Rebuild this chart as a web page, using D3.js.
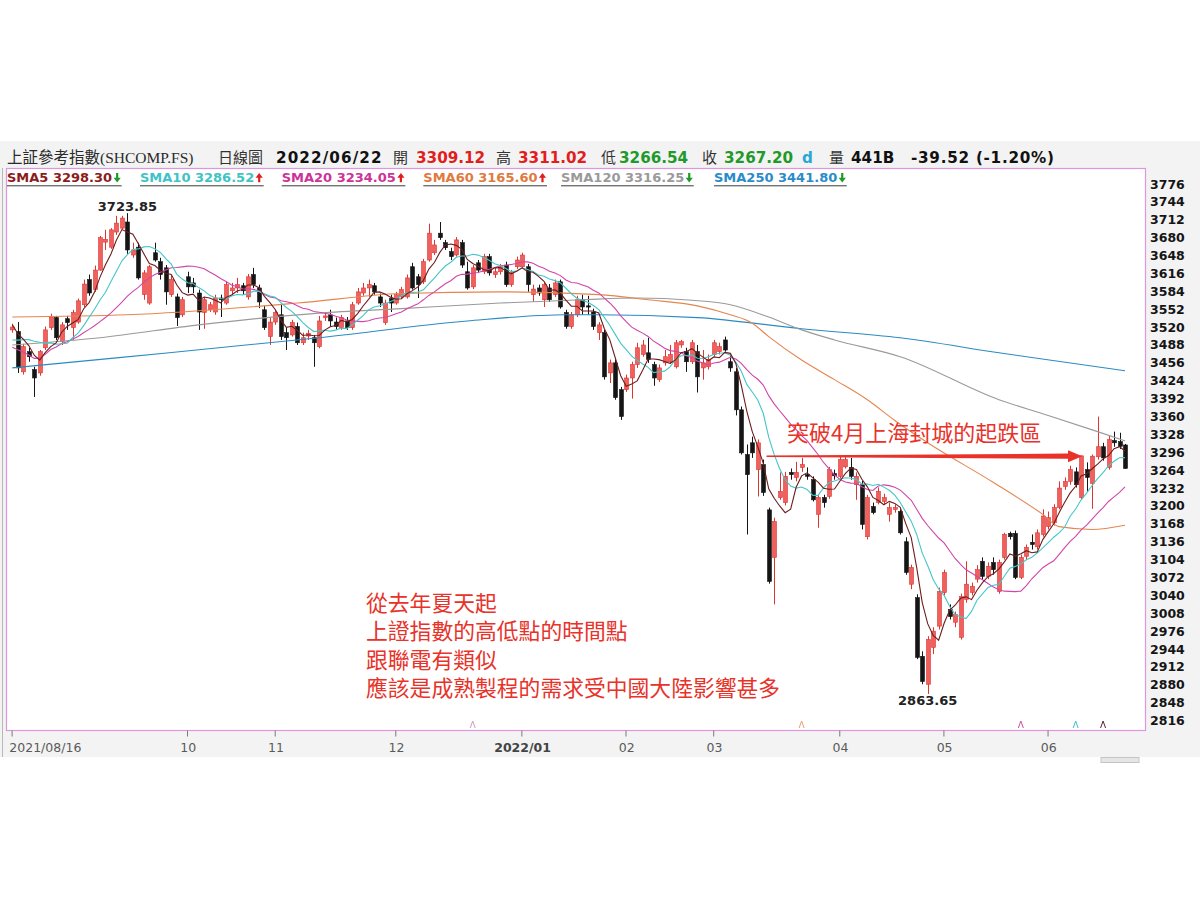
<!DOCTYPE html>
<html>
<head>
<meta charset="utf-8">
<script src="https://cdn.jsdelivr.net/npm/d3@7"></script>
<style>
  body { margin: 0; background: #fff; }
  svg { display: block; }
</style>
</head>
<body>
<svg id="chart" width="1200" height="900"></svg>
<script>
// ---- Daily OHLC, 上証參考指數, 2021/08/16 – 2022/06/22 (204 sessions) ----
const candleOpen = [
  3515,3512,3440,3476,3444,3438,3483,3519,3537,3494,
  3535,3519,3529,3560,3605,3587,3622,3672,3663,3690,
  3697,3708,3649,3663,3578,3563,3653,3637,3626,3578,
  3574,3542,3610,3599,3581,3546,3551,3547,3572,3563,
  3585,3590,3594,3574,3614,3590,3551,3503,3529,3542,
  3510,3506,3521,3492,3504,3501,3485,3537,3542,3529,
  3519,3531,3519,3563,3581,3590,3594,3574,3528,3571,
  3563,3574,3574,3628,3610,3601,3640,3653,3688,3671,
  3655,3649,3671,3619,3592,3635,3619,3646,3614,3619,
  3631,3596,3628,3628,3628,3578,3590,3569,3590,3578,
  3601,3546,3521,3542,3569,3558,3547,3510,3510,3438,
  3456,3408,3408,3429,3453,3471,3474,3453,3426,3456,
  3458,3449,3488,3476,3458,3476,3447,3449,3471,3476,
  3497,3458,3440,3372,3292,3313,3265,3274,3193,3108,
  3215,3206,3260,3251,3269,3256,3247,3185,3215,3217,
  3258,3253,3270,3269,3238,3238,3145,3199,3206,3208,
  3185,3194,3190,3136,3060,3036,2931,2881,2947,2985,
  3045,3015,2992,2965,3033,3045,3069,3101,3074,3099,
  3047,3108,3151,3151,3072,3110,3135,3127,3149,3163,
  3170,3197,3235,3244,3261,3215,3265,3240,3288,3306,
  3269,3317,3315,3309.12
];
const candleHigh = [
  3526,3529,3490,3483,3449,3479,3521,3544,3540,3529,
  3540,3551,3571,3605,3614,3630,3683,3694,3697,3719,
  3719,3723.85,3671,3671,3622,3631,3671,3644,3631,3612,
  3580,3574,3619,3608,3587,3574,3565,3578,3578,3601,
  3599,3608,3599,3615,3626,3596,3558,3537,3551,3560,
  3519,3533,3528,3510,3515,3506,3540,3547,3551,3537,
  3542,3538,3565,3590,3599,3605,3599,3580,3569,3578,
  3583,3592,3614,3635,3615,3642,3705,3676,3708,3676,
  3662,3681,3676,3637,3631,3640,3651,3651,3626,3633,
  3637,3622,3646,3653,3633,3596,3596,3601,3597,3605,
  3605,3551,3547,3576,3578,3576,3553,3529,3515,3462,
  3462,3413,3435,3458,3492,3497,3501,3458,3453,3479,
  3488,3497,3497,3483,3497,3488,3479,3471,3497,3492,
  3503,3471,3447,3378,3310,3324,3319,3283,3197,3179,
  3260,3261,3267,3279,3286,3269,3253,3220,3220,3270,
  3265,3288,3290,3286,3260,3245,3220,3206,3233,3222,
  3206,3203,3194,3144,3095,3042,2940,2967,2983,3054,
  3086,3024,3011,3043,3101,3063,3094,3108,3099,3108,
  3104,3152,3154,3156,3113,3131,3149,3158,3194,3190,
  3203,3244,3251,3272,3269,3290,3278,3292,3360,3313,
  3326,3333,3331,3311.02
];
const candleLow = [
  3510,3438,3435,3458,3395,3433,3479,3515,3497,3488,
  3515,3497,3526,3556,3576,3583,3621,3658,3660,3685,
  3694,3651,3644,3605,3569,3560,3637,3605,3560,3574,
  3522,3538,3581,3581,3515,3517,3547,3542,3538,3560,
  3578,3581,3578,3569,3590,3554,3515,3488,3524,3497,
  3479,3503,3488,3488,3497,3449,3482,3531,3521,3515,
  3515,3515,3515,3560,3576,3574,3578,3556,3524,3547,
  3560,3571,3571,3587,3572,3597,3637,3649,3676,3658,
  3640,3646,3626,3587,3588,3617,3615,3612,3608,3614,
  3592,3592,3624,3624,3583,3565,3576,3556,3565,3574,
  3553,3517,3517,3538,3542,3542,3515,3497,3426,3420,
  3390,3354,3404,3392,3447,3467,3456,3415,3422,3451,
  3454,3446,3483,3440,3454,3403,3426,3444,3467,3471,
  3476,3440,3362,3292,3149,3286,3217,3218,3061,3024,
  3211,3201,3247,3244,3261,3247,3208,3161,3197,3213,
  3247,3249,3267,3247,3211,3158,3140,3185,3203,3203,
  3172,3188,3149,3077,3051,2926,2881,2863.65,2935,2979,
  3040,2997,2983,2961,3027,3040,3063,3069,3069,3077,
  3043,3104,3140,3069,3069,3104,3122,3122,3145,3158,
  3165,3194,3229,3238,3233,3211,3226,3195,3283,3281,
  3265,3306,3302,3266.54
];
const candleClose = [
  3520,3447,3485,3467,3429,3476,3515,3538,3501,3524,
  3528,3546,3567,3597,3581,3622,3680,3677,3694,3706,
  3715,3658,3658,3608,3617,3628,3640,3614,3583,3605,
  3537,3569,3592,3592,3547,3569,3560,3572,3569,3596,
  3590,3596,3585,3610,3596,3565,3519,3529,3546,3503,
  3501,3528,3492,3501,3509,3492,3531,3540,3531,3521,
  3537,3519,3560,3583,3590,3596,3583,3563,3563,3563,
  3578,3587,3608,3590,3596,3637,3688,3667,3680,3662,
  3646,3676,3631,3590,3626,3622,3646,3617,3619,3628,
  3596,3617,3640,3649,3596,3588,3581,3596,3569,3599,
  3556,3521,3542,3569,3556,3556,3521,3524,3431,3456,
  3394,3360,3429,3453,3483,3488,3462,3429,3447,3467,
  3471,3492,3494,3458,3492,3431,3456,3462,3492,3485,
  3479,3447,3372,3295,3256,3295,3313,3224,3065,3172,
  3226,3253,3256,3260,3274,3253,3211,3215,3206,3265,
  3254,3283,3283,3253,3253,3167,3215,3188,3226,3215,
  3197,3197,3152,3081,3090,2929,2886,2961,2976,3047,
  3081,3002,3006,3038,3060,3056,3086,3074,3092,3086,
  3099,3149,3145,3072,3108,3126,3131,3152,3182,3179,
  3197,3232,3243.8,3265,3238,3289.7,3251,3289,3306,3286,
  3318.6,3313,3306.72,3267.20
];
// Closes of the 20 sessions before 2021/08/16, used to seed the short averages
const earlierCloses = [3539,3537,3563,3575,3550,3467,3381,3362,3412,3397,
                       3464,3448,3477,3467,3458,3494,3530,3533,3525,3516];

// Long averages (session index, value)
const sma60Idx  = [0,21,52,71,89,107,116,125,131,135,138,144,150,156,161,167,179,188,191,197,203];
const sma60Val  = [3538,3542,3563,3580,3583,3578,3569,3558,3542,3527,3503,3461,3426,3390,3353,3313,3242,3185,3163,3158,3165.6];
const sma120Idx = [0,16,34,56,71,89,104,114,124,131,138,144,150,162,180,189,198,203];
const sma120Val = [3488,3501,3524,3545,3553,3563,3569,3572,3568,3560,3538,3515,3497,3467,3390,3362,3333,3316.25];
const sma250Idx = [0,19,56,83,101,107,125,144,162,180,203];
const sma250Val = [3447,3465,3501,3531,3542,3542,3537,3517,3501,3474,3441.8];

// Axis ticks
const yTicks = [2816,2848,2880,2912,2944,2976,3008,3040,3072,3104,3136,3168,3200,3232,3264,3296,
                3328,3360,3392,3424,3456,3488,3520,3552,3584,3616,3648,3680,3712,3744,3776];
const xTickIdx    = [0, 32, 48, 70, 93, 112, 128, 151, 170, 189];
const xTickLabels = ["2021/08/16","10","11","12","2022/01","02","03","04","05","06"];

// Legend
const legendNames  = ["SMA5","SMA10","SMA20","SMA60","SMA120","SMA250"];
const legendValues = ["3298.30","3286.52","3234.05","3165.60","3316.25","3441.80"];
const legendUp     = [false, true, true, true, false, false];

// Signal markers along the bottom of the plot (session index)
const markerIdx = [84, 144, 184, 194, 199];

const volumeText = "441B";
const headerDate = "2022/06/22";

// ---------------------------------------------------------------------------
const svg = d3.select("#chart");
const F = { l: 6.5, t: 168.5, r: 1145.5, b: 730.5 };
const n = candleClose.length;

const x = d3.scaleLinear().domain([0, n - 1]).range([12.3, 1125]);
const y = d3.scaleLinear().domain([2816, 3776]).range([720.6, 184]);

const NUM = "'DejaVu Sans', Verdana, sans-serif";
const CJK = "'Liberation Serif', 'Noto Sans CJK TC', serif";
const CJK_SANS = "'Noto Sans CJK TC', 'Noto Sans CJK SC', sans-serif";

const C = {
  sma5: "#6e1d1d", sma10: "#45c6c8", sma20: "#d245a8",
  sma60: "#e4864f", sma120: "#9a9a9a", sma250: "#2a8bc2",
  up: "#f0605c", upEdge: "#dd3632", down: "#151515",
  red: "#e21d1d", green: "#1f9a2a", frame: "#de96de", note: "#e8322a"
};
const legendColors = ["#8c1c1c", "#3fc3c6", "#cc3399", "#e07a3e", "#9a9a9a", "#2a8cc8"];
const markerColors = ["#c9a0c0", "#e8a070", "#d050a0", "#40bcd0", "#602030"];

// Panel backgrounds
svg.append("rect").attr("width", 1200).attr("height", 900).attr("fill", "#fff");
svg.append("rect").attr("x", 0).attr("y", 141).attr("width", 1200).attr("height", 616).attr("fill", "#f3f3f3");
svg.append("line").attr("x1", 2.5).attr("x2", 2.5).attr("y1", 168).attr("y2", 757).attr("stroke", "#b8b8b8");
svg.append("rect").attr("x", F.l).attr("y", F.t).attr("width", F.r - F.l).attr("height", F.b - F.t)
   .attr("fill", "#fff");

// small toolbar widget under the axis
svg.append("rect").attr("x", 1101).attr("y", 757.5).attr("width", 38).attr("height", 5)
   .attr("fill", "#e6e6e6").attr("stroke", "#c4c4c4");

svg.append("clipPath").attr("id", "plotClip").append("rect")
   .attr("x", F.l).attr("y", F.t).attr("width", F.r - F.l).attr("height", F.b - F.t);
const plot = svg.append("g").attr("clip-path", "url(#plotClip)");

// ---- Candles ----
const candles = plot.append("g").selectAll("g").data(d3.range(n)).join("g");
candles.append("line")
  .attr("x1", i => Math.round(x(i)) + 0.5).attr("x2", i => Math.round(x(i)) + 0.5)
  .attr("y1", i => y(candleHigh[i])).attr("y2", i => y(candleLow[i]))
  .attr("stroke", i => candleClose[i] >= candleOpen[i] ? C.upEdge : C.down)
  .attr("stroke-width", 1);
candles.append("rect")
  .attr("x", i => Math.round(x(i)) - 1.5)
  .attr("width", 4)
  .attr("y", i => y(Math.max(candleOpen[i], candleClose[i])))
  .attr("height", i => Math.max(1.2, Math.abs(y(candleOpen[i]) - y(candleClose[i]))))
  .attr("fill", i => candleClose[i] >= candleOpen[i] ? C.up : C.down)
  .attr("stroke", i => candleClose[i] >= candleOpen[i] ? C.upEdge : C.down)
  .attr("stroke-width", 0.6);

// ---- Moving averages ----
const allCloses = earlierCloses.concat(candleClose);
const off = earlierCloses.length;
function sma(k) {
  return d3.range(n).map(i => d3.mean(allCloses.slice(i + off - k + 1, i + off + 1)));
}
const lineIdx = d3.line().x((d, i) => x(i)).y(d => y(d));
const lineSampled = d3.line().x(d => x(d[0])).y(d => y(d[1])).curve(d3.curveMonotoneX);
const pairs = (a, b) => a.map((d, i) => [d, b[i]]);

const maLayer = plot.append("g").attr("fill", "none").attr("stroke-width", 1.1);
maLayer.append("path").attr("d", lineSampled(pairs(sma250Idx, sma250Val))).attr("stroke", C.sma250);
maLayer.append("path").attr("d", lineSampled(pairs(sma120Idx, sma120Val))).attr("stroke", C.sma120);
maLayer.append("path").attr("d", lineSampled(pairs(sma60Idx, sma60Val))).attr("stroke", C.sma60);
maLayer.append("path").attr("d", lineIdx(sma(20))).attr("stroke", C.sma20);
maLayer.append("path").attr("d", lineIdx(sma(10))).attr("stroke", C.sma10);
maLayer.append("path").attr("d", lineIdx(sma(5))).attr("stroke", C.sma5);

// ---- Signal carets ----
plot.append("g").selectAll("path").data(markerIdx).join("path")
  .attr("d", d => `M${x(d) - 2.5},728 L${x(d)},721 L${x(d) + 2.5},728`)
  .attr("fill", "none").attr("stroke", (d, i) => markerColors[i]).attr("stroke-width", 1);

// ---- Frame ----
svg.append("rect").attr("x", F.l).attr("y", F.t).attr("width", F.r - F.l).attr("height", F.b - F.t)
   .attr("fill", "none").attr("stroke", C.frame).attr("stroke-width", 1.2);

// ---- Y axis ----
const yAxis = svg.append("g").attr("transform", `translate(${F.r},0)`)
  .call(d3.axisRight(y).tickValues(yTicks).tickSize(0).tickPadding(4.5).tickFormat(d3.format("d")));
yAxis.select(".domain").remove();
yAxis.selectAll("text").attr("font-family", NUM).attr("font-weight", "bold")
  .attr("font-size", 12.5).attr("fill", "#151515");

// ---- X axis ----
const xAxis = svg.append("g").attr("transform", `translate(0,${F.b})`)
  .call(d3.axisBottom(x).tickValues(xTickIdx).tickSize(6).tickPadding(7)
        .tickFormat((d, i) => xTickLabels[i]));
xAxis.select(".domain").remove();
xAxis.selectAll("line").attr("stroke", "#7a7a7a").attr("transform", "translate(-0.7,0)");
xAxis.selectAll("text").attr("font-family", NUM).attr("font-size", 12.5)
  .attr("font-weight", (d, i) => xTickLabels[i].includes("/01") ? "bold" : "normal")
  .attr("fill", (d, i) => xTickLabels[i].includes("/01") ? "#444" : "#5a5a5a");
xAxis.selectAll("text").filter((d, i) => i === 0).attr("text-anchor", "start").attr("dx", -3.5);

// ---- Header row ----
const last = n - 1;
const chg = candleClose[last] - candleClose[last - 1];
const pct = chg / candleClose[last - 1] * 100;
const header = [
  { x: 7,   t: "上証參考指數(SHCOMP.FS)", f: CJK, s: 15.5, w: "normal", c: "#2a2a2a", ls: 0 },
  { x: 218, t: "日線圖", f: CJK_SANS, s: 15, w: "normal", c: "#333", ls: 0 },
  { x: 276, t: headerDate, f: NUM, s: 15.2, w: "bold", c: "#111", ls: 1.1 },
  { x: 393, t: "開", f: CJK_SANS, s: 15, w: "normal", c: "#333", ls: 0 },
  { x: 416, t: candleOpen[last].toFixed(2), f: NUM, s: 15.2, w: "bold", c: C.red, ls: 0 },
  { x: 496, t: "高", f: CJK_SANS, s: 15, w: "normal", c: "#333", ls: 0 },
  { x: 518, t: candleHigh[last].toFixed(2), f: NUM, s: 15.2, w: "bold", c: C.red, ls: 0 },
  { x: 601, t: "低", f: CJK_SANS, s: 15, w: "normal", c: "#333", ls: 0 },
  { x: 619, t: candleLow[last].toFixed(2), f: NUM, s: 15.2, w: "bold", c: C.green, ls: 0 },
  { x: 702, t: "收", f: CJK_SANS, s: 15, w: "normal", c: "#333", ls: 0 },
  { x: 724, t: candleClose[last].toFixed(2), f: NUM, s: 15.2, w: "bold", c: C.green, ls: 0 },
  { x: 802, t: "d", f: NUM, s: 15.2, w: "bold", c: "#2aa7d6", ls: 0 },
  { x: 829, t: "量", f: CJK_SANS, s: 15, w: "normal", c: "#333", ls: 0 },
  { x: 851, t: volumeText, f: NUM, s: 15.2, w: "bold", c: "#111", ls: 0 },
  { x: 911, t: `${chg.toFixed(2)} (${pct.toFixed(2)}%)`, f: NUM, s: 15.2, w: "bold", c: "#111", ls: 0.75 }
];
svg.append("g").selectAll("text").data(header).join("text")
  .attr("x", d => d.x).attr("y", 163.3).text(d => d.t)
  .attr("font-family", d => d.f).attr("font-size", d => d.s)
  .attr("letter-spacing", d => d.ls)
  .attr("font-weight", d => d.w).attr("fill", d => d.c);

// ---- Legend row ----
const legendX = [7, 140, 281.7, 423.3, 561, 714];
const LY = 182.3;
const lg = svg.append("g");
legendNames.forEach((name, i) => {
  const t = lg.append("text").attr("x", legendX[i]).attr("y", LY)
    .attr("font-family", NUM).attr("font-weight", "bold").attr("font-size", 13)
    .attr("fill", legendColors[i]).text(`${name} ${legendValues[i]}`);
  const w = t.node().getComputedTextLength();
  const cx = legendX[i] + w + 5;
  const up = legendUp[i];
  // bold arrow: triangular head + short shaft
  const p = up
    ? `M${cx - 3.6},${LY - 4.6} L${cx},${LY - 9.4} L${cx + 3.6},${LY - 4.6} L${cx + 1.1},${LY - 4.6} L${cx + 1.1},${LY} L${cx - 1.1},${LY} L${cx - 1.1},${LY - 4.6} Z`
    : `M${cx - 3.6},${LY - 4.6} L${cx},${LY + 0.2} L${cx + 3.6},${LY - 4.6} L${cx + 1.1},${LY - 4.6} L${cx + 1.1},${LY - 9.2} L${cx - 1.1},${LY - 9.2} L${cx - 1.1},${LY - 4.6} Z`;
  lg.append("path").attr("d", p).attr("fill", up ? C.red : C.green);
  lg.append("line").attr("x1", legendX[i]).attr("x2", cx + 4.5)
    .attr("y1", 185.8).attr("y2", 185.8).attr("stroke", "#3a3a3a").attr("stroke-width", 1);
});

// ---- Extreme labels ----
const hiIdx = d3.maxIndex(candleHigh), loIdx = d3.minIndex(candleLow);
svg.append("text").attr("x", x(hiIdx)).attr("y", y(candleHigh[hiIdx]) - 2.5)
  .attr("text-anchor", "middle").attr("font-family", NUM).attr("font-weight", "bold")
  .attr("font-size", 13).attr("fill", "#222").text(candleHigh[hiIdx].toFixed(2));
svg.append("text").attr("x", x(loIdx)).attr("y", y(candleLow[loIdx]) + 11.5)
  .attr("text-anchor", "middle").attr("font-family", NUM).attr("font-weight", "bold")
  .attr("font-size", 13).attr("fill", "#222").text(candleLow[loIdx].toFixed(2));

// ---- Breakout arrow at the April rebound high ----
const breakoutLevel = 3289;
const ax0 = x(137.6), ax1 = x(192.6), tip = x(195.2), ay = y(breakoutLevel);
svg.append("path")
  .attr("d", `M${ax0},${ay - 0.8} L${ax1},${ay - 2.6} L${ax1},${ay - 6} L${tip},${ay} L${ax1},${ay + 6} L${ax1},${ay + 2.6} L${ax0},${ay + 0.8} Z`)
  .attr("fill", C.note);

svg.append("text").attr("x", 787).attr("y", 440.5)
  .attr("font-family", CJK_SANS).attr("font-size", 22).attr("fill", C.note)
  .text("突破4月上海封城的起跌區");

const noteLines = ["從去年夏天起", "上證指數的高低點的時間點", "跟聯電有類似", "應該是成熟製程的需求受中國大陸影響甚多"];
svg.append("g").selectAll("text").data(noteLines).join("text")
  .attr("x", 366).attr("y", (d, i) => 610.5 + i * 28.5)
  .attr("font-family", CJK_SANS).attr("font-size", 21.8).attr("fill", C.note)
  .text(d => d);
</script>
</body>
</html>
